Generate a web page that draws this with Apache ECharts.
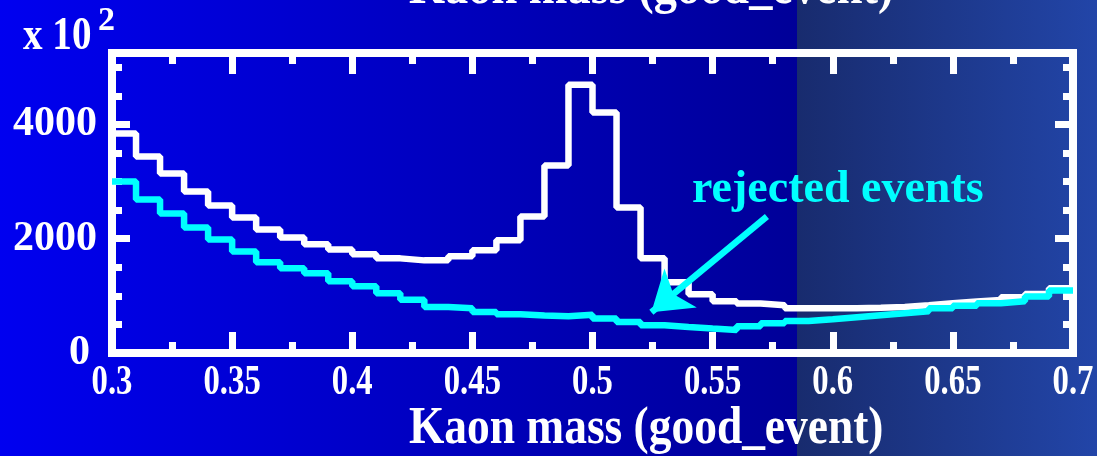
<!DOCTYPE html>
<html>
<head>
<meta charset="utf-8">
<script src="https://cdn.jsdelivr.net/npm/echarts@6/dist/echarts.min.js"></script>
<style>
  html, body { margin: 0; padding: 0; background: #0000c0; }
  #chart { width: 1097px; height: 456px; }
</style>
</head>
<body>
<div id="chart"></div>
<script>
// Histogram bin edges (Kaon mass, GeV)
const binEdges = [0.30, 0.31, 0.32, 0.33, 0.34, 0.35, 0.36, 0.37, 0.38, 0.39,
                  0.40, 0.41, 0.42, 0.43, 0.44, 0.45, 0.46, 0.47, 0.48, 0.49,
                  0.50, 0.51, 0.52, 0.53, 0.54, 0.55, 0.56, 0.57, 0.58, 0.59,
                  0.60, 0.61, 0.62, 0.63, 0.64, 0.65, 0.66, 0.67, 0.68, 0.69, 0.70];

// Entries per bin (x 10^2) - all good events
const goodEvents = [3840, 3438, 3141, 2827, 2582, 2372, 2163, 2023, 1901, 1813,
                    1726, 1656, 1621, 1621, 1691, 1796, 1971, 2390, 3281, 4696,
                    4207, 2547, 1656, 1237, 1027, 905, 865, 835, 783, 783,
                    783, 791, 805, 835, 870, 900, 928, 975, 1032, 1132];

// Entries per bin (x 10^2) - rejected events
const rejectedEvents = [3000, 2687, 2442, 2198, 1988, 1778, 1586, 1481, 1394, 1254,
                        1167, 1045, 931, 805, 783, 718, 678, 655, 643, 669,
                        603, 543, 486, 456, 428, 404, 468, 521, 559, 590,
                        625, 660, 695, 730, 783, 826, 870, 905, 987, 1092];

const xTickLabels = ['0.3', '0.35', '0.4', '0.45', '0.5', '0.55', '0.6', '0.65', '0.7'];
const yTickLabels = ['0', '2000', '4000'];

const axisTitle = 'Kaon mass (good_event)';
const noteText = 'rejected events';

const SERIF = "'Liberation Serif', 'Times New Roman', serif";
const WHITE = '#ffffff';
const CYAN = '#00ffff';

// Histogram outline: one point per lower bin edge, plus the closing upper edge
function histPoints(values) {
  const pts = values.map((v, i) => [binEdges[i], v]);
  pts.push([binEdges[binEdges.length - 1], values[values.length - 1]]);
  return pts;
}

const chart = echarts.init(document.getElementById('chart'), null, { renderer: 'canvas' });

const frameLine = { show: true, onZero: false, lineStyle: { color: WHITE, width: 8, cap: 'square' } };

function xAxisDef(pos) {
  return {
    type: 'value', position: pos, min: 0.3, max: 0.7, interval: 0.05,
    axisLine: frameLine,
    axisTick: { show: true, inside: true, length: 21, lineStyle: { color: WHITE, width: 7 } },
    minorTick: { show: true, splitNumber: 2, length: 11, lineStyle: { color: WHITE, width: 7 } },
    axisLabel: { show: false },
    splitLine: { show: false },
    minorSplitLine: { show: false }
  };
}

function yAxisDef(pos, withLabels) {
  return {
    type: 'value', position: pos, min: 0, max: 5250, interval: 2000,
    axisLine: frameLine,
    axisTick: { show: true, inside: true, length: 18, lineStyle: { color: WHITE, width: 7 } },
    minorTick: { show: true, splitNumber: 4, length: 10, lineStyle: { color: WHITE, width: 7 } },
    axisLabel: {
      show: withLabels,
      margin: 15,
      formatter: function (v) {
        const s = String(v);
        if (yTickLabels.indexOf(s) < 0) return '';
        return v === 0 ? '{z|' + s + '}' : '{n|' + s + '}';
      },
      rich: {
        n: { fontFamily: SERIF, fontWeight: 'bold', fontSize: 42, color: WHITE },
        z: { fontFamily: SERIF, fontWeight: 'bold', fontSize: 42, color: WHITE, padding: [0, 7, 0, 0] }
      }
    },
    splitLine: { show: false },
    minorSplitLine: { show: false }
  };
}

chart.setOption({
  animation: false,
  backgroundColor: 'transparent',
  grid: { left: 112, right: 24, top: 53, bottom: 103, containLabel: false, outerBoundsMode: 'none' },
  xAxis: [xAxisDef('bottom'), xAxisDef('top')],
  yAxis: [yAxisDef('left', true), yAxisDef('right', false)],
  series: [
    {
      name: 'good events', type: 'line', step: 'end', showSymbol: false, symbol: 'none',
      xAxisIndex: 0, yAxisIndex: 0,
      data: histPoints(goodEvents),
      lineStyle: { color: WHITE, width: 6.5 },
      emphasis: { disabled: true }, silent: true, z: 3
    },
    {
      name: 'rejected events', type: 'line', step: 'end', showSymbol: false, symbol: 'none',
      xAxisIndex: 0, yAxisIndex: 0,
      data: histPoints(rejectedEvents),
      lineStyle: { color: CYAN, width: 6.5 },
      emphasis: { disabled: true }, silent: true, z: 4,
      markLine: {
        silent: true, animation: false,
        symbol: ['none', 'arrow'], symbolSize: 38,
        label: { show: false },
        lineStyle: { color: CYAN, width: 6.5, type: 'solid' },
        emphasis: { disabled: true },
        data: [[{ coord: [0.5726, 2390] }, { coord: [0.5245, 713] }]]
      }
    }
  ]
});

// Background, tick labels and titles
const W = 1097, H = 456;
const gfx = [
  {
    type: 'rect', z: -10, silent: true,
    shape: { x: 0, y: 0, width: 797, height: H },
    style: { fill: { type: 'linear', x: 0, y: 0, x2: 1, y2: 0,
      colorStops: [{ offset: 0, color: '#0000f0' }, { offset: 1, color: '#000098' }] } }
  },
  {
    type: 'rect', z: -10, silent: true,
    shape: { x: 797, y: 0, width: W - 797, height: H },
    style: { fill: { type: 'linear', x: 0, y: 0, x2: 1, y2: 0,
      colorStops: [{ offset: 0, color: '#182b6e' }, { offset: 1, color: '#2245a8' }] } }
  }
];

function textEl(text, x, y, size, color, align, sx) {
  return {
    type: 'text', z: 20, silent: true, x: x, y: y, scaleX: sx || 1,
    style: { text: text, x: 0, y: 0, fill: color, font: 'bold ' + size + 'px ' + SERIF,
             align: align, verticalAlign: 'middle' }
  };
}

xTickLabels.forEach(function (lab) {
  const px = chart.convertToPixel({ xAxisIndex: 0 }, parseFloat(lab));
  gfx.push(textEl(lab, px, 382.5, 43, WHITE, 'center', 0.76));
});

gfx.push(textEl(axisTitle, 409, 429, 53, WHITE, 'left', 0.857));
gfx.push(textEl(axisTitle, 409, -11, 53, WHITE, 'left', 0.875));
gfx.push(textEl('x 10', 23, 37.5, 46, WHITE, 'left', 0.85));
gfx.push(textEl('2', 98, 21.5, 34, WHITE, 'left', 1));
gfx.push(textEl(noteText, 692, 190.5, 46, CYAN, 'left', 1));

chart.setOption({ graphic: gfx });
</script>
</body>
</html>
